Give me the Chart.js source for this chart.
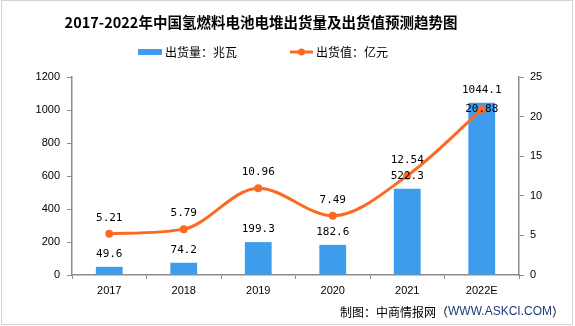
<!DOCTYPE html>
<html>
<head>
<meta charset="utf-8">
<script src="https://cdn.jsdelivr.net/npm/chart.js@4"></script>
<style>
  html, body { margin: 0; padding: 0; background: #fff; }
  #wrap { width: 575px; height: 326px; }
</style>
</head>
<body>
<div id="wrap"><canvas id="chart" width="575" height="326"></canvas></div>
<script>
// dados
const years = ['2017', '2018', '2019', '2020', '2021', '2022E'];
const shipmentMW = [49.6, 74.2, 199.3, 182.6, 522.3, 1044.1];
const valueYi = [5.21, 5.79, 10.96, 7.49, 12.54, 20.88];
const leftTicks = [0, 200, 400, 600, 800, 1000, 1200];
const rightTicks = [0, 5, 10, 15, 20, 25];

const titleText = '2017-2022年中国氢燃料电池电堆出货量及出货值预测趋势图';
const barLabel = '出货量：兆瓦';
const lineLabel = '出货值：亿元';

const BAR_COLOR = '#3e9cec';
const LINE_COLOR = '#fc6a22';
const AXIS_COLOR = '#8c8c8c';

// título, legenda, rodapé e moldura
const decorPlugin = {
    id: 'decor',
    afterDraw(chart) {
        const ctx = chart.ctx;
        ctx.save();
        ctx.fillStyle = '#000';
        ctx.textBaseline = 'middle';
        ctx.textAlign = 'center';
        ctx.font = 'bold 14.5px "Noto Sans CJK SC"';
        ctx.fillText(titleText, 261, 22);

        // legenda
        ctx.font = '12px "Noto Sans CJK SC"';
        ctx.textAlign = 'left';
        ctx.fillStyle = BAR_COLOR;
        ctx.fillRect(138, 49, 24, 6);
        ctx.fillStyle = '#000';
        ctx.fillText(barLabel, 165, 52);

        ctx.strokeStyle = LINE_COLOR;
        ctx.lineWidth = 3;
        ctx.beginPath();
        ctx.moveTo(290, 52);
        ctx.lineTo(313, 52);
        ctx.stroke();
        ctx.fillStyle = LINE_COLOR;
        ctx.beginPath();
        ctx.arc(301.5, 52, 3.5, 0, Math.PI * 2);
        ctx.fill();
        ctx.fillStyle = '#000';
        ctx.fillText(lineLabel, 316, 52);

        // rodapé
        ctx.textAlign = 'left';
        let x = 340;
        ctx.font = '12px "Noto Sans CJK SC"';
        ctx.fillText('制图：中商情报网（', x, 312);
        x += ctx.measureText('制图：中商情报网（').width;
        ctx.font = '12px "Liberation Sans"';
        ctx.fillStyle = '#1d3b78';
        ctx.fillText('WWW.ASKCI.COM', x, 312);
        x += ctx.measureText('WWW.ASKCI.COM').width;
        ctx.font = '12px "Noto Sans CJK SC"';
        ctx.fillStyle = '#000';
        ctx.fillText('）', x, 312);

        ctx.strokeStyle = '#d4d4d4';
        ctx.lineWidth = 1;
        ctx.strokeRect(1.5, 0.5, 571, 324);
        ctx.restore();
    }
};

// rótulos de valores
const labelPlugin = {
    id: 'valueLabels',
    afterDatasetsDraw(chart) {
        const ctx = chart.ctx;
        ctx.save();
        ctx.font = '11px "DejaVu Sans Mono"';
        ctx.fillStyle = '#000';
        ctx.textAlign = 'center';
        ctx.textBaseline = 'middle';
        chart.getDatasetMeta(0).data.forEach((bar, i) => {
            ctx.fillText(shipmentMW[i].toFixed(1), bar.x, bar.y - 13);
        });
        const pts = chart.getDatasetMeta(1).data;
        pts.forEach((pt, i) => {
            const dy = i === pts.length - 1 ? 0 : 16;
            ctx.fillText(valueYi[i].toFixed(2), pt.x, pt.y - dy);
        });
        ctx.restore();
    }
};

const tickFont = { family: 'Liberation Sans', size: 11 };

new Chart(document.getElementById('chart').getContext('2d'), {
    data: {
        labels: years,
        datasets: [{
            type: 'bar',
            label: barLabel,
            data: shipmentMW,
            backgroundColor: BAR_COLOR,
            yAxisID: 'y',
            barPercentage: 0.72,
            categoryPercentage: 0.5,
            order: 2
        }, {
            type: 'line',
            label: lineLabel,
            data: valueYi,
            borderColor: LINE_COLOR,
            backgroundColor: LINE_COLOR,
            borderWidth: 3,
            pointRadius: 4,
            pointBorderWidth: 0,
            cubicInterpolationMode: 'monotone',
            yAxisID: 'y1',
            order: 1
        }]
    },
    options: {
        responsive: false,
        animation: false,
        layout: { padding: { top: 77, left: 0, right: 0, bottom: 0 } },
        plugins: {
            legend: { display: false },
            title: { display: false },
            tooltip: { enabled: false }
        },
        scales: {
            x: {
                offset: true,
                grid: { display: true, drawOnChartArea: false, offset: true, color: AXIS_COLOR, tickLength: 4 },
                border: { color: AXIS_COLOR, width: 1.5 },
                ticks: { color: '#000', font: tickFont, padding: 5 },
                afterFit(scale) { scale.height = 51; }
            },
            y: {
                position: 'left',
                min: 0, max: 1200,
                afterBuildTicks(scale) { scale.ticks = leftTicks.map(v => ({ value: v })); },
                grid: { display: true, drawOnChartArea: false, color: AXIS_COLOR, tickLength: 5 },
                border: { color: AXIS_COLOR, width: 1.5 },
                ticks: { color: '#000', font: tickFont, padding: 7, callback: v => String(v) },
                afterFit(scale) { scale.width = 72; }
            },
            y1: {
                position: 'right',
                min: 0, max: 25,
                afterBuildTicks(scale) { scale.ticks = rightTicks.map(v => ({ value: v })); },
                grid: { display: true, drawOnChartArea: false, color: AXIS_COLOR, tickLength: 5 },
                border: { color: AXIS_COLOR, width: 1.5 },
                ticks: { color: '#000', font: tickFont, padding: 6, callback: v => String(v) },
                afterFit(scale) { scale.width = 56; }
            }
        }
    },
    plugins: [labelPlugin, decorPlugin]
});
</script>
</body>
</html>
